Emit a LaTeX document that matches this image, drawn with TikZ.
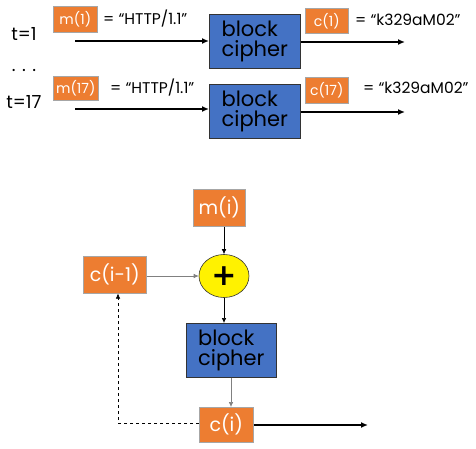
\documentclass[tikz,border=0pt]{standalone}
\usepackage{fontspec}
\setmainfont{Poppins}
\newfontfamily\plusfont{DejaVu Sans}
\usetikzlibrary{arrows.meta,shapes.geometric}
\definecolor{org}{HTML}{ED7D31}
\definecolor{blu}{HTML}{4472C4}
\tikzset{
  obox/.style={draw=gray!70, line width=0.6pt, fill=org, text=white, inner sep=0pt, anchor=north west},
  bbox/.style={draw=black!80, line width=0.6pt, fill=blu, inner sep=0pt, anchor=north west, align=left, font=\fontsize{21}{20}\selectfont},
  lbl/.style={inner sep=0pt, font=\fontsize{15.5}{17}\selectfont},
  thick arrow/.style={-{Latex[length=7pt,width=6pt]}, line width=1.6pt},
  thin arrow/.style={-{Latex[length=5pt,width=4.5pt]}, line width=0.6pt},
}
\begin{document}
\begin{tikzpicture}[x=1pt,y=-1pt]
\useasboundingbox (0,0) rectangle (476,449);
% top row 1
\node[obox, minimum width=44pt, minimum height=26pt, font=\fontsize{14}{16}\selectfont] (m1) at (53,6) {m(1)};
\node[lbl, anchor=west] (m1t) at (103,19) {= “HTTP/1.1”};
\node[bbox, minimum width=91pt, minimum height=54pt] (bc1) at (209,14) {block\\cipher};
\node[inner sep=0pt, font=\fontsize{18}{20}\selectfont] (t1) at (24,34) {t=1};
\coordinate (a1s) at (75,41);
\draw[thick arrow] (a1s) -- (bc1.west |- a1s);
\node[obox, minimum width=43pt, minimum height=25pt, font=\fontsize{14}{16}\selectfont] (c1) at (305,8) {c(1)};
\node[lbl, anchor=west] (c1t) at (355,20) {= “k329aM02”};
\coordinate (o1) at (405,42);
\draw[thick arrow] (bc1.east |- o1) -- (o1);
% dots
\node[inner sep=0pt, font=\fontsize{18}{20}\selectfont] (dots) at (24,70) {. . .};
% row 2
\node[obox, minimum width=45pt, minimum height=24pt, font=\fontsize{14}{16}\selectfont] (m17) at (53,76) {m(17)};
\node[lbl, anchor=west] (m17t) at (110,88) {= “HTTP/1.1”};
\node[bbox, minimum width=91pt, minimum height=54pt] (bc2) at (209,84) {block\\cipher};
\node[inner sep=0pt, font=\fontsize{18}{20}\selectfont] (t17) at (24,102) {t=17};
\coordinate (a2s) at (75,109);
\draw[thick arrow] (a2s) -- (bc2.west |- a2s);
\node[obox, minimum width=43pt, minimum height=26pt, font=\fontsize{14}{16}\selectfont] (c17) at (305,77) {c(17)};
\node[lbl, anchor=west] (c17t) at (363,88) {= “k329aM02”};
\coordinate (o2) at (405,112);
\draw[thick arrow] (bc2.east |- o2) -- (o2);
% bottom CBC
\node[obox, minimum width=52pt, minimum height=37pt, font=\fontsize{19}{21}\selectfont] (mi) at (193,189) {m(i)};
\node[draw=black!80, line width=0.6pt, fill=yellow, ellipse, minimum width=50pt, minimum height=43pt, inner sep=0pt, font=\plusfont\bfseries\fontsize{30}{30}\selectfont] (xor) at (224,276) {+};
\node[obox, minimum width=63pt, minimum height=37pt, font=\fontsize{19}{21}\selectfont] (cim1) at (83,256) {c(i-1)};
\node[bbox, minimum width=90pt, minimum height=54pt] (bc3) at (186,323) {block\\cipher};
\node[obox, minimum width=54pt, minimum height=35pt, font=\fontsize{19}{21}\selectfont] (ci) at (199,407) {c(i)};
\draw[thin arrow] (mi.south -| xor.north) -- (xor.north);
\draw[thin arrow, draw=gray] (cim1.east |- xor.west) -- (xor.west);
\draw[thin arrow] (xor.south) -- (bc3.north -| xor.south);
\draw[thin arrow, draw=gray] (bc3.south -| 231,0) -- (ci.north -| 231,0);
\coordinate (out) at (368,425);
\draw[thick arrow] (ci.east |- out) -- (out);
\coordinate (dcorner) at (118,423);
\draw[thin arrow, dashed, line width=0.5pt] (ci.west |- dcorner) -- (dcorner) -- (cim1.south -| dcorner);
\end{tikzpicture}
\end{document}
